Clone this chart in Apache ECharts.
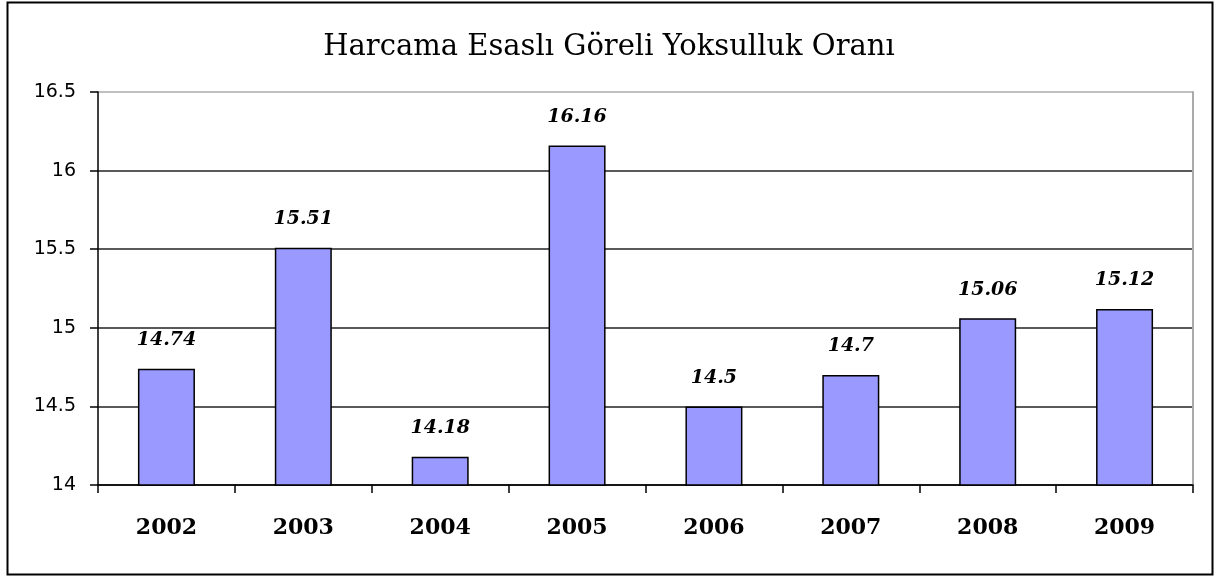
<!DOCTYPE html>
<html>
<head>
<meta charset="utf-8">
<title>Harcama Esaslı Göreli Yoksulluk Oranı</title>
<script src="https://cdn.jsdelivr.net/npm/echarts@6/dist/echarts.min.js"></script>
<style>
  html, body { margin: 0; padding: 0; background: #fff; }
  #main { width: 1218px; height: 576px; }
</style>
</head>
<body>
<div id="main"></div>
<script>
'use strict';
// veriler
var years = ['2002', '2003', '2004', '2005', '2006', '2007', '2008', '2009'];
var rates = [14.74, 15.51, 14.18, 16.16, 14.5, 14.7, 15.06, 15.12];
var yMin = 14;
var yMax = 16.5;
var yStep = 0.5;

var chart = echarts.init(document.getElementById('main'));
chart.setOption({
    backgroundColor: '#fff',
    animation: false,
    title: {
        text: 'Harcama Esaslı Göreli Yoksulluk Oranı',
        left: 'center',
        top: 28,
        textStyle: {
            fontFamily: 'DejaVu Serif',
            fontSize: 29,
            fontWeight: 'normal',
            color: '#000'
        }
    },
    graphic: [{
        type: 'rect',
        shape: { x: 7.5, y: 2.5, width: 1205, height: 572 },
        style: { fill: null, stroke: '#000', lineWidth: 2 },
        silent: true
    }],
    grid: { left: 98, right: 25, top: 92, bottom: 91 },
    xAxis: {
        type: 'category',
        data: years,
        boundaryGap: true,
        axisLine: { lineStyle: { color: '#000', width: 1.5 } },
        axisTick: { show: true, length: 8, lineStyle: { color: '#000', width: 1.5 } },
        axisLabel: {
            margin: 32,
            fontFamily: 'DejaVu Serif',
            fontWeight: 'bold',
            fontSize: 22,
            color: '#000'
        }
    },
    yAxis: [{
        type: 'value',
        min: yMin,
        max: yMax,
        interval: yStep,
        axisLine: { show: true, lineStyle: { color: '#000', width: 1.5 } },
        axisTick: { show: true, length: 8, lineStyle: { color: '#000', width: 1.5 } },
        axisLabel: {
            margin: 22,
            fontFamily: 'DejaVu Sans',
            fontSize: 19,
            color: '#000'
        },
        splitLine: {
            show: true,
            lineStyle: { color: ['#222', '#222', '#222', '#222', '#222', '#aaa'], width: 1.5 }
        }
    }, {
        type: 'value',
        position: 'right',
        min: yMin,
        max: yMax,
        interval: yStep,
        axisLine: { show: true, lineStyle: { color: '#aaa', width: 2 } },
        axisTick: { show: false },
        axisLabel: { show: false },
        splitLine: { show: false }
    }],
    series: [{
        type: 'bar',
        data: rates,
        barWidth: 57,
        itemStyle: { color: '#9999ff', borderColor: '#000', borderWidth: 1.5 },
        label: {
            show: true,
            position: 'top',
            distance: 19,
            fontFamily: 'DejaVu Serif',
            fontStyle: 'italic',
            fontWeight: 'bold',
            fontSize: 19,
            color: '#000'
        }
    }]
});
</script>
</body>
</html>
